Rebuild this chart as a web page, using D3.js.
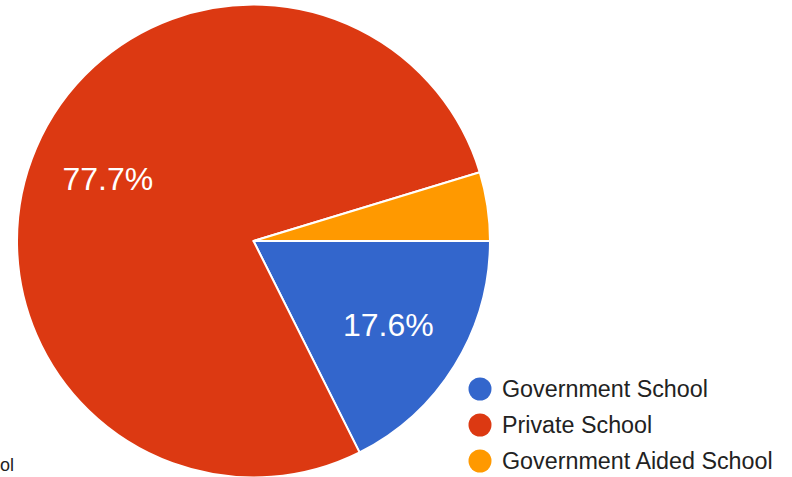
<!DOCTYPE html>
<html>
<head>
<meta charset="utf-8">
<script src="https://cdn.jsdelivr.net/npm/d3@7"></script>
<style>
  html, body { margin: 0; padding: 0; background: #fff; }
  svg { display: block; font-family: "Liberation Sans", Arial, sans-serif; }
</style>
</head>
<body>
<svg id="chart" width="792" height="477"></svg>
<script>
// School type share of respondents
const categories = ["Government School", "Private School", "Government Aided School"];
const shares = [17.6, 77.7, 4.7];
const colors = ["#3366cc", "#dc3912", "#ff9900"];

const svg = d3.select("#chart");
const cx = 253.5, cy = 241, radius = 236.5;

const pie = d3.pie()
  .sort(null)
  .value(d => d)
  .startAngle(Math.PI / 2)
  .endAngle(Math.PI / 2 + 2 * Math.PI);

const arcs = pie(shares);
const arc = d3.arc().innerRadius(0).outerRadius(radius);
const labelArc = d3.arc().innerRadius(radius * 0.67).outerRadius(radius * 0.67);

const g = svg.append("g").attr("transform", `translate(${cx},${cy})`);

g.selectAll("path.slice")
  .data(arcs)
  .join("path")
  .attr("class", "slice")
  .attr("d", arc)
  .attr("fill", (d, i) => colors[i])
  .attr("stroke", "#fff")
  .attr("stroke-width", 2)
  .attr("stroke-linejoin", "round");

// percentage labels on slices large enough to hold them
g.selectAll("text.pct")
  .data(arcs.filter(d => d.data >= 10))
  .join("text")
  .attr("class", "pct")
  .attr("transform", d => `translate(${labelArc.centroid(d)})`)
  .attr("text-anchor", "middle")
  .attr("dy", "0.36em")
  .attr("fill", "#fff")
  .style("font-size", "32px")
  .text(d => d.data.toFixed(1) + "%");

// legend
const legend = svg.append("g").attr("transform", "translate(480,389)");
const rowH = 36;
const items = legend.selectAll("g.item")
  .data(categories)
  .join("g")
  .attr("class", "item")
  .attr("transform", (d, i) => `translate(0,${i * rowH})`);

items.append("circle")
  .attr("r", 11.5)
  .attr("fill", (d, i) => colors[i]);

items.append("text")
  .attr("x", 22)
  .attr("y", 8)
  .attr("fill", "#222")
  .style("font-size", "23.3px")
  .text(d => d);

// trailing fragment of a label at the left edge
svg.append("text")
  .attr("x", 0)
  .attr("y", 471)
  .attr("fill", "#222")
  .style("font-size", "18px")
  .text("ol");
</script>
</body>
</html>
